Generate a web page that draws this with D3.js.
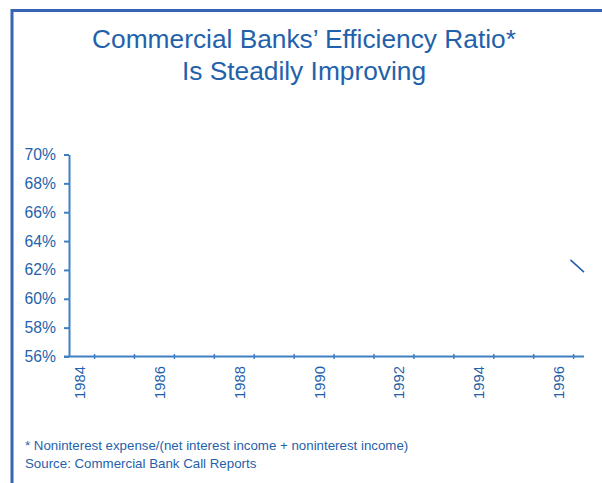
<!DOCTYPE html>
<html>
<head>
<meta charset="utf-8">
<script src="https://cdn.jsdelivr.net/npm/d3@7"></script>
<style>
  html, body { margin: 0; padding: 0; background: #fff; }
  svg { display: block; font-family: "Liberation Sans", Arial, sans-serif; }
</style>
</head>
<body>
<svg id="chart" width="602" height="483"></svg>
<script>
// ---- data ----
const titleLines = ["Commercial Banks\u2019 Efficiency Ratio*", "Is Steadily Improving"];
const yTicks = [56, 58, 60, 62, 64, 66, 68, 70];
const xTickYears = [1984, 1985, 1986, 1987, 1988, 1989, 1990, 1991, 1992, 1993, 1994, 1995, 1996];
const xLabelYears = [1984, 1986, 1988, 1990, 1992, 1994, 1996];
const seriesYears = [1995.92, 1996.26];
const seriesValues = [62.7, 61.85];
const footnotes = ["* Noninterest expense/(net interest income + noninterest income)",
                   "Source: Commercial Bank Call Reports"];

// ---- layout ----
const textColor = "#1f62ab";
const axisColor = "#3f80c2";
const borderColor = "#3764b4";
const svg = d3.select("#chart");

// frame (top & left visible)
svg.append("rect")
  .attr("x", 12).attr("y", 10.5)
  .attr("width", 700).attr("height", 600)
  .attr("fill", "none").attr("stroke", borderColor).attr("stroke-width", 3);

// title
svg.append("g").selectAll("text").data(titleLines).join("text")
  .attr("x", 304).attr("y", (d, i) => 48 + i * 32)
  .attr("text-anchor", "middle")
  .attr("font-size", 26.3)
  .attr("fill", textColor)
  .text(d => d);

const x = d3.scaleLinear().domain([1983.36, 1996.26]).range([69, 584]);
const y = d3.scaleLinear().domain([56, 70]).range([356.5, 154.5]);

// y axis
const yAxis = d3.axisLeft(y).tickValues(yTicks).tickFormat(d => d + "%")
  .tickSizeInner(5).tickSizeOuter(0).tickPadding(8);
const gy = svg.append("g").attr("transform", `translate(${x.range()[0]},0)`).call(yAxis);
gy.select(".domain").attr("stroke", axisColor).attr("stroke-width", 2);
gy.selectAll(".tick line").attr("stroke", axisColor).attr("stroke-width", 2);
gy.selectAll(".tick text").attr("fill", textColor).attr("font-size", 15.7)
  .attr("font-family", "'Liberation Sans', Arial, sans-serif");

// x axis
const gx = svg.append("g").attr("transform", `translate(0,${y(56)})`);
gx.append("line")
  .attr("x1", x.range()[0] - 5).attr("x2", x.range()[1])
  .attr("stroke", axisColor).attr("stroke-width", 2);
gx.selectAll("line.tk").data(xTickYears).join("line").attr("class", "tk")
  .attr("x1", d => x(d)).attr("x2", d => x(d))
  .attr("y1", -2.5).attr("y2", 2.5)
  .attr("stroke", axisColor).attr("stroke-width", 1.5);
gx.selectAll("text").data(xLabelYears).join("text")
  .attr("transform", d => `translate(${x(d) - 9.5},9.5) rotate(-90)`)
  .attr("text-anchor", "end")
  .attr("font-size", 14.8)
  .attr("fill", textColor)
  .text(d => d);

// series line
const line = d3.line().x(d => x(d[0])).y(d => y(d[1]));
svg.append("path")
  .datum(seriesYears.map((yr, i) => [yr, seriesValues[i]]))
  .attr("d", line)
  .attr("fill", "none")
  .attr("stroke", "#1f5fa8")
  .attr("stroke-width", 1.5);

// footnotes
svg.append("g").selectAll("text").data(footnotes).join("text")
  .attr("x", 25).attr("y", (d, i) => 450 + i * 18)
  .attr("font-size", 13.3)
  .attr("fill", textColor)
  .text(d => d);
</script>
</body>
</html>
